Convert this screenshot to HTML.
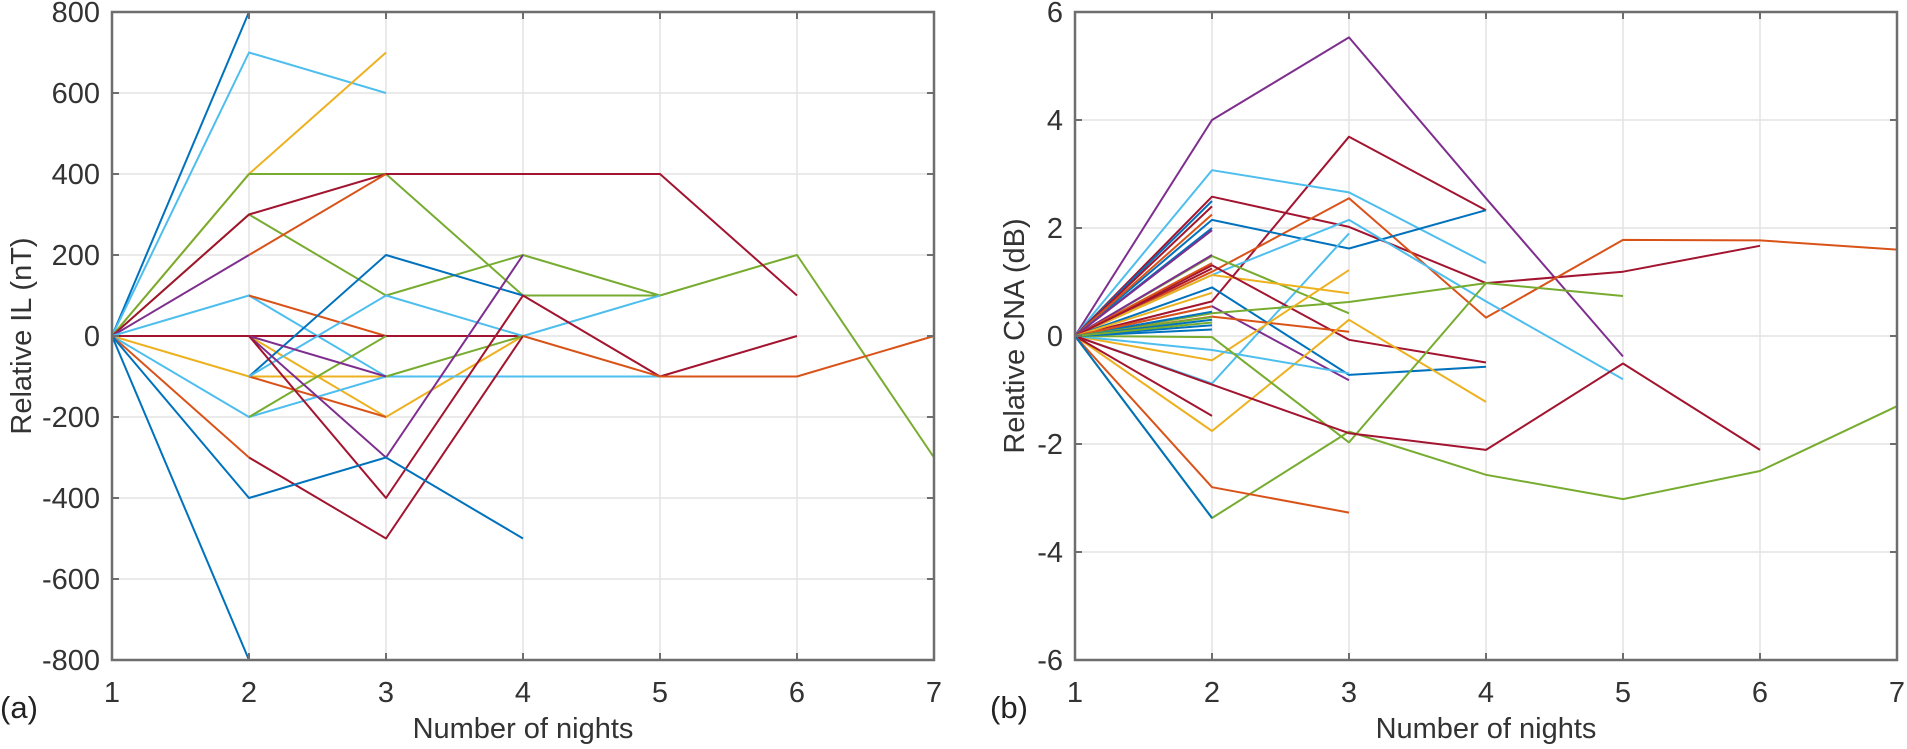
<!DOCTYPE html>
<html><head><meta charset="utf-8"><style>
html,body{margin:0;padding:0;background:#fff;}
svg{display:block;font-family:"Liberation Sans",sans-serif;}
</style></head><body>
<svg id="s" width="1907" height="749" xmlns="http://www.w3.org/2000/svg"></svg>
<script>
const S=document.getElementById('s');
const C={b:'#0072BD',o:'#D95319',y:'#EDB120',p:'#7E2F8E',g:'#77AC30',l:'#4DBEEE',r:'#A2142F'};
let h='';
const FS=29;
function axes(x0,x1,y0,y1,yt){
  for(let i=0;i<7;i++){const x=x0+i*(x1-x0)/6;h+=`<line x1="${x}" y1="${y0}" x2="${x}" y2="${y1}" stroke="#e3e3e3" stroke-width="1.5"/>`;}
  yt.forEach((v,i)=>{const y=y0+i*(y1-y0)/(yt.length-1);h+=`<line x1="${x0}" y1="${y}" x2="${x1}" y2="${y}" stroke="#e3e3e3" stroke-width="1.5"/>`;});
}
function frame(x0,x1,y0,y1,yt,lab,lx,tag,tagx){
  h+=`<rect x="${x0}" y="${y0}" width="${x1-x0}" height="${y1-y0}" fill="none" stroke="#6e6e6e" stroke-width="2.5"/>`;
  for(let i=0;i<7;i++){const x=x0+i*(x1-x0)/6;
    h+=`<line x1="${x}" y1="${y1}" x2="${x}" y2="${y1-7}" stroke="#6e6e6e" stroke-width="2"/><line x1="${x}" y1="${y0}" x2="${x}" y2="${y0+7}" stroke="#6e6e6e" stroke-width="2"/>`;
    h+=`<text x="${x}" y="${y1+42}" font-size="${FS}" fill="#333" text-anchor="middle">${i+1}</text>`;}
  yt.forEach((v,i)=>{const y=y0+i*(y1-y0)/(yt.length-1);
    h+=`<line x1="${x0}" y1="${y}" x2="${x0+7}" y2="${y}" stroke="#6e6e6e" stroke-width="2"/><line x1="${x1}" y1="${y}" x2="${x1-7}" y2="${y}" stroke="#6e6e6e" stroke-width="2"/>`;
    h+=`<text x="${x0-12}" y="${y+10}" font-size="${FS}" fill="#333" text-anchor="end">${v}</text>`;});
  h+=`<text transform="translate(${lx},${(y0+y1)/2}) rotate(-90)" font-size="${FS}" fill="#333" text-anchor="middle">${lab}</text>`;
  h+=`<text x="${(x0+x1)/2}" y="${y1+78}" font-size="${FS}" fill="#333" text-anchor="middle">Number of nights</text>`;
  h+=`<text x="${tagx}" y="${y1+58}" font-size="31" fill="#222">${tag}</text>`;
}
function series(X,Y,list){
  list.forEach(s=>{const c=C[s[0]],st=s[1],v=s.slice(2);
    const pts=v.map((val,i)=>X(st+i).toFixed(1)+','+Y(val).toFixed(1)).join(' ');
    h+=`<polyline points="${pts}" fill="none" stroke="${c}" stroke-width="2" stroke-linejoin="round"/>`;});
}
const LX=x=>112+(x-1)*137, LY=v=>336-v*0.405;
axes(112,934,12,660,[800,600,400,200,0,-200,-400,-600,-800]);
series(LX,LY,[
 ['b',1,0,800],['b',1,0,-800],['l',1,0,700,600],['y',1,0,400,700],
 ['g',1,0,400,400,100,100],['g',1,0,300,100,200,100,200,-300],
 ['r',1,0,300,400,400,400,100],['p',1,0,200],['o',2,200,400],
 ['l',1,0,100,-100],['o',2,100,0],['r',1,0,0,0,0],
 ['y',1,0,-100,-100],['y',2,0,-200,0],['o',2,-100,-200],
 ['b',2,-100,200,100],['l',1,0,-200,-100,-100,-100],['l',2,-100,100,0,100],
 ['g',2,-200,0],['g',3,-100,0],['p',2,0,-100],['p',2,0,-300,200],
 ['r',2,0,-400,100,-100,0],['o',1,0,-300],['r',2,-300,-500,0],['o',4,0,-100,-100,0],
 ['b',1,0,-400,-300,-500]
]);
frame(112,934,12,660,[800,600,400,200,0,-200,-400,-600,-800],'Relative IL (nT)',31,'(a)',0);
const RX=x=>1075+(x-1)*137, RY=v=>336-v*54;
axes(1075,1897,12,660,[6,4,2,0,-2,-4,-6]);
series(RX,RY,[
 ['p',1,0,4,5.53,2.55,-0.38],['r',1,0,0.64,3.69,2.33],['l',1,0,3.07,2.66,1.35],
 ['r',1,0,2.58,2.02,0.98,1.19,1.67],['o',1,0,1.19,2.55,0.34,1.78,1.77,1.6],
 ['b',1,0,2.15,1.62,2.33],['l',1,0,1.13,2.15,0.64,-0.8],['l',1,0,-0.88,1.9],
 ['g',1,0,1.48,0.42],['y',1,0,1.13,0.79],['r',1,0,1.31,-0.07,-0.49],
 ['b',1,0,0.9,-0.72,-0.57],['p',1,0,0.55,-0.82],['g',1,0,0.42,0.63,0.98],
 ['o',1,0,0.36,0.08],['y',1,0,-0.45,1.22],['y',1,0,-1.76,0.3,-1.22],
 ['l',1,0,-0.26,-0.69],['g',1,0,-0.02,-1.97,0.98,0.74],
 ['g',1,0,-3.37,-1.77,-2.57,-3.02,-2.5,-1.3],['r',1,0,-0.9,-1.8,-2.11,-0.51,-2.11],
 ['r',1,0,-1.48],['o',1,0,-2.8,-3.27],['b',1,0,-3.37],
 ['b',1,0,2.5],['r',1,0,2.4],['o',1,0,2.25],['b',1,0,2.0],['p',1,0,1.96],
 ['p',1,0,1.5],['o',1,0,1.35],['r',1,0,1.25],['y',1,0,0.8],['b',1,0,0.45],
 ['o',1,0,0.55],['g',1,0,0.35],['b',1,0,0.3],['b',1,0,0.2],['b',1,0,0.12],['g',1,0,0.25]
]);
frame(1075,1897,12,660,[6,4,2,0,-2,-4,-6],'Relative CNA (dB)',1024,'(b)',990);
S.innerHTML=h;
</script>
</body></html>
